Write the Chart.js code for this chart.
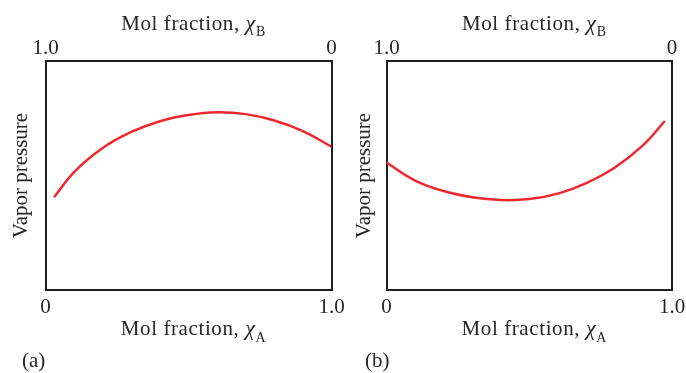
<!DOCTYPE html>
<html>
<head>
<meta charset="utf-8">
<script src="https://cdn.jsdelivr.net/npm/chart.js@4/dist/chart.umd.min.js"></script>
<style>
  html, body { margin: 0; padding: 0; background: #ffffff; }
  #wrap { position: relative; width: 686px; height: 373px; overflow: hidden; background: #fff; }
  canvas { position: absolute; top: 0; }
  #cA { left: 0; }
  #cB { left: 343px; }
</style>
</head>
<body>
<div id="wrap">
  <canvas id="cA" width="360" height="373"></canvas>
  <canvas id="cB" width="343" height="373"></canvas>
</div>
<script>
// ---- data (mole fraction of A, relative vapor pressure) ----
const xA_positive = [0.03, 0.10, 0.20, 0.30, 0.40, 0.50, 0.60, 0.70, 0.80, 0.90, 1.0];
const pA_positive = [0.405, 0.515, 0.620, 0.690, 0.737, 0.764, 0.776, 0.768, 0.740, 0.694, 0.626];

const xA_negative = [0.0, 0.10, 0.20, 0.30, 0.40, 0.50, 0.60, 0.70, 0.80, 0.90, 0.975];
const pA_negative = [0.556, 0.478, 0.432, 0.405, 0.393, 0.397, 0.421, 0.467, 0.535, 0.634, 0.738];

// tick values and labels
const tickValues = [0, 1];
const bottomTickLabels = ['0', '1.0'];   // χA
const topTickLabels = ['0', '1.0'];      // χB (value 0 at right, 1 at left)
const panelLabels = ['(a)', '(b)'];
const xTitleMain = 'Mol fraction, ';
const xTitleSymbol = '\u03C7';
const yTitle = 'Vapor pressure';

const FONT = 'Liberation Serif';
const TXT = '#262626';
const RED = '#f0282d';
const BOX = '#1e1e1e';

const titlePlugin = {
  id: 'titles',
  afterDraw(chart, args, opts) {
    const ctx = chart.ctx;
    const a = chart.chartArea;
    const cx = (a.left + a.right) / 2 + 5;
    const fMain = '21px "' + FONT + '"';
    const fSym = 'italic 22px "' + FONT + '"';
    const fSub = '14px "' + FONT + '"';
    function drawSub(sub, baseY, subDy) {
      ctx.save();
      ctx.fillStyle = TXT;
      ctx.textBaseline = 'alphabetic';
      ctx.textAlign = 'left';
      ctx.letterSpacing = '0.6px';
      ctx.font = fMain;
      const w1 = ctx.measureText(xTitleMain).width;
      ctx.font = fSym;
      const w2 = ctx.measureText(xTitleSymbol).width;
      ctx.font = fSub;
      const w3 = ctx.measureText(sub).width;
      const start = cx - (w1 + w2 + w3) / 2;
      ctx.font = fMain;
      ctx.fillText(xTitleMain, start, baseY);
      ctx.font = fSym;
      ctx.fillText(xTitleSymbol, start + w1, baseY);
      ctx.font = fSub;
      ctx.fillText(sub, start + w1 + w2, baseY + subDy);
      ctx.restore();
    }
    drawSub('B', 30, 6);
    drawSub('A', 335, 7);
    ctx.save();
    ctx.fillStyle = TXT;
    ctx.font = fMain;
    ctx.textAlign = 'left';
    ctx.textBaseline = 'alphabetic';
    ctx.fillText(opts.panel, 22, 367);
    ctx.restore();
  }
};

function makeChart(id, xs, ys, panel, boxLeft, boxRight) {
  const canvas = document.getElementById(id);
  const W = canvas.width, H = canvas.height;
  const boxTop = 61, boxBottom = 290;
  const tickFont = { family: FONT, size: 21 };
  const noGrid = { display: false, drawTicks: false };
  const border = { display: true, color: BOX, width: 2 };
  return new Chart(canvas, {
    type: 'line',
    data: {
      datasets: [{
        data: xs.map((x, i) => ({ x: x, y: ys[i] })),
        borderColor: RED,
        borderWidth: 2.5,
        pointRadius: 0,
        tension: 0.4,
        fill: false
      }]
    },
    options: {
      responsive: false,
      animation: false,
      devicePixelRatio: 1,
      layout: { padding: 0 },
      plugins: { legend: { display: false }, tooltip: { enabled: false }, titles: { panel: panel } },
      scales: {
        x: {
          type: 'linear', position: 'bottom', min: 0, max: 1,
          grid: noGrid, border: border,
          ticks: { font: tickFont, color: TXT, padding: 5, autoSkip: false, maxRotation: 0,
                   callback: (v) => bottomTickLabels[tickValues.indexOf(v)] },
          afterBuildTicks: (s) => { s.ticks = tickValues.map(v => ({ value: v })); },
          afterFit: (s) => { s.height = H - boxBottom; s.paddingLeft = 0; s.paddingRight = 0; }
        },
        xB: {
          type: 'linear', position: 'top', min: 0, max: 1, reverse: true,
          grid: noGrid, border: border,
          ticks: { font: tickFont, color: TXT, padding: 0, autoSkip: false, maxRotation: 0,
                   callback: (v) => topTickLabels[tickValues.indexOf(v)] },
          afterBuildTicks: (s) => { s.ticks = tickValues.map(v => ({ value: v })); },
          afterFit: (s) => { s.height = boxTop; s.paddingLeft = 0; s.paddingRight = 0; }
        },
        y: {
          type: 'linear', position: 'left', min: 0, max: 1,
          grid: noGrid, border: border,
          ticks: { display: false },
          title: { display: true, text: yTitle, color: TXT, font: { family: FONT, size: 21 },
                   padding: { top: 9, bottom: 0 } },
          afterFit: (s) => { s.width = boxLeft; s.paddingTop = 0; s.paddingBottom = 0; }
        },
        y2: {
          type: 'linear', position: 'right', min: 0, max: 1,
          grid: noGrid, border: border,
          ticks: { display: false },
          afterFit: (s) => { s.width = W - boxRight; s.paddingTop = 0; s.paddingBottom = 0; }
        }
      }
    },
    plugins: [titlePlugin]
  });
}

makeChart('cA', xA_positive, pA_positive, panelLabels[0], 45.5, 331.5);
makeChart('cB', xA_negative, pA_negative, panelLabels[1], 43.5, 329);
</script>
</body>
</html>
